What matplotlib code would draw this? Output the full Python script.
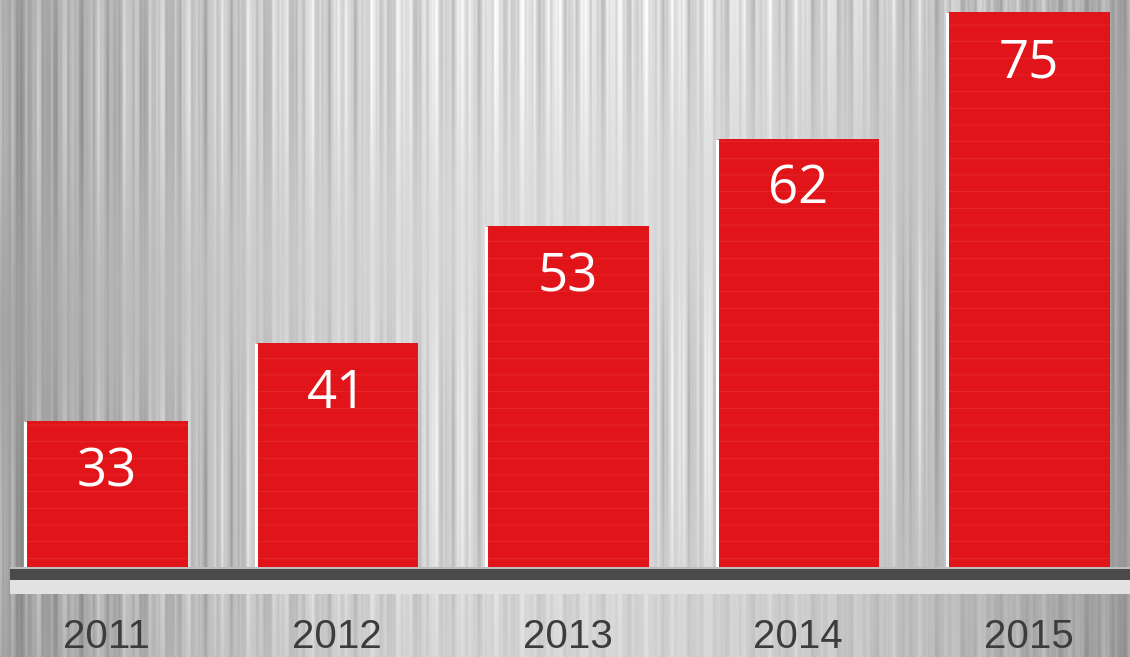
import numpy as np
import matplotlib.pyplot as plt
from matplotlib.patches import Rectangle
from matplotlib import transforms

years = ["2011", "2012", "2013", "2014", "2015"]
values = [33, 41, 53, 62, 75]

BAR_RED = "#e11419"
YEAR_GREY = "#3c3c3c"
BASE = 18  # bars grow from here, the picture does not start at zero


def streak_background(w=1130, h=657):
    # vertical brushed-metal look, built from a few sines (no data here)
    x = np.linspace(0, 1, w)
    y = np.linspace(0, 1, h)
    cols = (
        0.05 * np.sin(2 * np.pi * 37 * x + 0.4)
        + 0.04 * np.sin(2 * np.pi * 91 * x + 1.3)
        + 0.03 * np.sin(2 * np.pi * 173 * x + 2.1)
        + 0.015 * np.sin(2 * np.pi * 311 * x + 0.7)
    )
    vignette = 0.87 - 0.22 * (2 * x - 1) ** 2
    img = vignette[None, :] + cols[None, :] * (0.8 + 0.4 * np.sin(2 * np.pi * 1.5 * y[:, None] + 3 * x[None, :]))
    img = img - 0.04 * y[:, None]
    return np.clip(img, 0, 1)


fig = plt.figure(figsize=(11.3, 6.57), dpi=100)
bg = fig.add_axes([0, 0, 1, 1])
bg.imshow(streak_background(), cmap="gray", vmin=0, vmax=1, aspect="auto", interpolation="bilinear")
bg.set_axis_off()

# shelf
fig.patches.append(Rectangle((10 / 1130, 1 - 594 / 657), 1, 15 / 657, transform=fig.transFigure,
                             facecolor="#e2e2e2", edgecolor="none", zorder=1))
fig.patches.append(Rectangle((10 / 1130, 1 - 580 / 657), 1, 12 / 657, transform=fig.transFigure,
                             facecolor="#4a4a4a", edgecolor="none", zorder=1))
fig.patches.append(Rectangle((10 / 1130, 1 - 569 / 657), 1, 2 / 657, transform=fig.transFigure,
                             facecolor="#bdbdbd", edgecolor="none", zorder=1))

ax = fig.add_axes([0, 0, 1, 1])
ax.patch.set_alpha(0)
ax.set_xlim(-0.462, 4.44)
ax.set_ylim(8.77, 76.24)
ax.set_axis_off()

x = np.arange(len(years))
plt.rcParams["hatch.linewidth"] = 0.4
bars = ax.bar(x, [v - BASE for v in values], bottom=BASE, width=0.705,
              color=BAR_RED, edgecolor="#ea3338", linewidth=0, hatch="-", zorder=3)

for rect, v, yr in zip(bars, values, years):
    ax.vlines(rect.get_x(), BASE, v, color="white", linewidth=2.2, zorder=4)
    ax.annotate(str(v), (rect.get_x() + rect.get_width() / 2, v), xytext=(0, -47),
                textcoords="offset points", ha="center", va="baseline",
                color="white", fontsize=38, family="Open Sans", zorder=5)

trans = transforms.blended_transform_factory(ax.transData, ax.transAxes)
for xi, yr in zip(x, years):
    ax.text(xi, 0.002, yr, transform=trans, ha="center", va="bottom",
            color=YEAR_GREY, fontsize=29, family="Liberation Sans")

fig.savefig("out.png", dpi=100)
